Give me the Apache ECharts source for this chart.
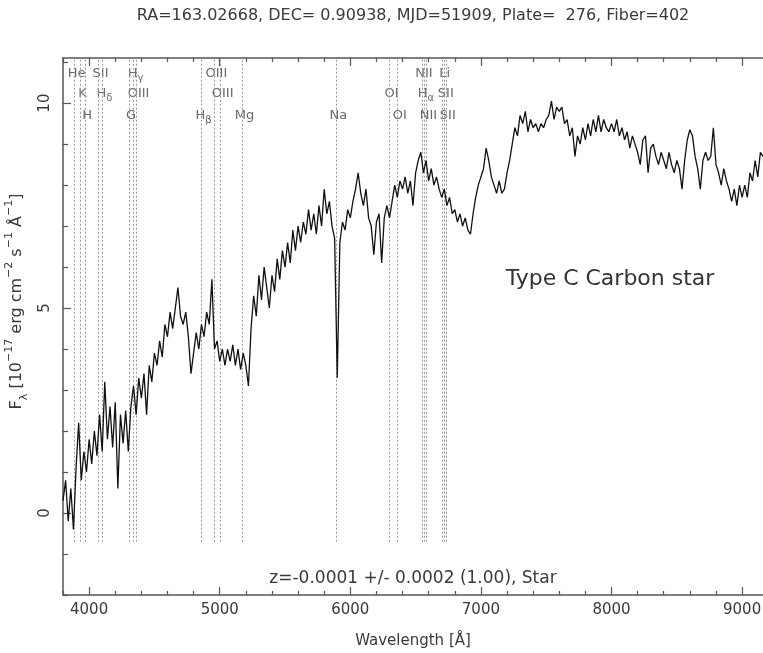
<!DOCTYPE html>
<html>
<head>
<meta charset="utf-8">
<script src="https://cdn.jsdelivr.net/npm/echarts@6/dist/echarts.min.js"></script>
<style>
html,body{margin:0;padding:0;background:#fff;}
#chart{width:763px;height:653px;}
</style>
</head>
<body>
<div id="chart"></div>
<script>
// ---- data ----
const waveStart = 3800;
const waveStep = 20;
const flux = [
  0.3,0.8,-0.2,0.6,-0.4,1.1,2.2,0.8,1.5,1.0,
  1.8,1.2,2.0,1.4,2.4,1.5,3.2,1.8,2.6,1.6,
  2.7,0.6,2.4,1.7,2.5,1.5,2.6,3.1,2.4,3.3,
  2.8,3.4,2.4,3.6,3.2,3.9,3.6,4.2,3.8,4.6,
  4.3,4.9,4.5,5.0,5.5,4.8,4.6,4.9,4.3,3.4,
  3.9,4.4,4.0,4.6,4.3,4.9,4.6,5.7,4.0,4.2,
  3.7,4.0,3.6,4.0,3.7,4.1,3.6,4.0,3.5,3.9,
  3.6,3.1,4.5,5.3,4.8,5.8,5.2,6.0,5.5,5.0,
  5.8,5.4,6.2,5.7,6.4,6.0,6.6,6.1,6.9,6.4,
  7.0,6.6,7.1,6.8,7.4,6.9,7.3,6.8,7.5,7.0,
  7.9,7.3,7.6,7.0,6.7,3.3,6.6,7.1,6.9,7.4,
  7.2,7.6,7.9,8.3,7.8,7.5,7.9,7.2,7.0,6.3,
  7.1,7.3,6.1,7.2,7.5,7.2,7.6,8.0,7.7,8.1,
  7.9,8.2,7.8,8.1,7.5,8.3,8.6,8.8,8.3,8.6,
  8.1,8.4,8.0,8.2,7.9,7.7,7.9,7.5,7.7,7.3,
  7.4,7.1,7.3,7.0,7.2,6.9,6.8,7.3,7.7,8.0,
  8.2,8.4,8.9,8.6,8.2,8.0,7.8,8.1,7.8,7.9,
  8.3,8.6,9.0,9.4,9.2,9.7,9.5,9.8,9.3,9.6,
  9.4,9.5,9.3,9.5,9.4,9.6,9.7,10.05,9.6,9.9,
  9.8,9.9,9.5,9.6,9.2,9.4,8.7,9.2,9.0,9.4,
  9.1,9.5,9.2,9.6,9.3,9.7,9.3,9.6,9.4,9.3,
  9.5,9.3,9.6,9.2,9.4,9.1,9.3,8.9,9.2,9.0,
  8.8,8.5,9.1,9.2,8.3,8.9,9.0,8.7,8.5,8.8,
  8.6,8.4,8.8,8.5,8.3,8.6,8.4,7.9,8.6,9.1,
  9.35,9.2,8.7,8.4,7.9,8.6,8.8,8.6,8.7,9.4,
  8.5,8.3,8.0,8.4,8.1,7.9,7.6,7.9,7.5,8.0,
  7.7,8.0,7.7,8.3,8.1,8.6,8.2,8.8,8.7
];
const lineWaves  = [3889, 3934, 3969, 4072, 4102, 4305, 4340, 4363, 4861, 4959, 5007, 5175, 5894, 6300, 6363, 6548, 6563, 6583, 6707, 6716, 6731];
const lineLabels = ['He','K','H','SII','Hδ','G','Hγ','OIII','Hβ','OIII','OIII','Mg','Na','OI','OI','NII','Hα','NII','Li','SII','SII'];
const lineRows   = [1, 2, 3, 1, 2, 3, 1, 2, 3, 1, 2, 3, 3, 2, 3, 1, 2, 3, 1, 2, 3];
const xMajorTicks = [4000, 5000, 6000, 7000, 8000, 9000];
const yMajorTicks = [0, 5, 10];
const titleText = 'RA=163.02668, DEC= 0.90938, MJD=51909, Plate=  276, Fiber=402';
const zText = 'z=-0.0001 +/- 0.0002 (1.00), Star';
const classText = 'Type C Carbon star';

// ---- build ----
const FONT = 'DejaVu Sans';
const TXT = '#3a3a3a';
const AX = '#555';
const xMin = 3800, xMax = 9160, yMin = -2, yMax = 11.1;
const rowY = [10.73, 10.24, 9.70];

const specData = flux.map((f, i) => [waveStart + i * waveStep, f]);
const xMinor = []; for (let v = xMin; v <= xMax; v += 200) if (v % 1000 !== 0) xMinor.push(v);
const yMinor = []; for (let v = yMin; v <= 11; v += 1) if (v % 5 !== 0) yMinor.push(v);

function richLabel(n) {
  if (n.length === 2 && n[0] === 'H' && 'αβγδ'.indexOf(n[1]) >= 0) return '{b|H}{g|' + n[1] + '}';
  return '{b|' + n + '}';
}

const labelData = lineWaves.map((w, i) => ({ value: [w, rowY[lineRows[i] - 1]], name: lineLabels[i] }));
const markData = lineWaves.map(w => [{ coord: [w, -0.7] }, { coord: [w, yMax] }]);

function xAx(pos, ticks, len, showLine, showLabel) {
  return {
    type: 'value', position: pos, min: xMin, max: xMax,
    axisLine: { show: showLine, onZero: false, lineStyle: { color: AX, width: 1.5 } },
    axisTick: { show: true, inside: true, length: len, customValues: ticks, lineStyle: { color: AX, width: 1.2 } },
    axisLabel: showLabel ? { show: true, customValues: xMajorTicks, formatter: v => String(v), margin: 8, color: TXT, fontFamily: FONT, fontSize: 15 } : { show: false },
    splitLine: { show: false }
  };
}
function yAx(ticks, len, showLine, showLabel) {
  return {
    type: 'value', position: 'left', min: yMin, max: yMax,
    axisLine: { show: showLine, onZero: false, lineStyle: { color: AX, width: 1.5 } },
    axisTick: { show: true, inside: true, length: len, customValues: ticks, lineStyle: { color: AX, width: 1.2 } },
    axisLabel: showLabel ? { show: true, customValues: yMajorTicks, formatter: v => String(v), rotate: 90, margin: 10, color: TXT, fontFamily: FONT, fontSize: 15 } : { show: false },
    splitLine: { show: false }
  };
}

const xAxes = [
  xAx('bottom', xMajorTicks, 8, true, true),
  xAx('bottom', xMinor, 4, false, false),
  xAx('top', xMajorTicks, 8, true, false),
  xAx('top', xMinor, 4, false, false)
];
xAxes[0].name = 'Wavelength [Å]';
xAxes[0].nameLocation = 'middle';
xAxes[0].nameGap = 39;
xAxes[0].nameTextStyle = { color: TXT, fontFamily: FONT, fontSize: 15 };

const yAxes = [yAx(yMajorTicks, 8, true, true), yAx(yMinor, 5, false, false)];
yAxes[0].name = '{t|F}{s|λ}{t| [10}{p|−17}{t| erg cm}{p|−2}{t| s}{p|−1}{t| Å}{p|−1}{t|]}';
yAxes[0].nameLocation = 'middle';
yAxes[0].nameRotate = 90;
yAxes[0].nameGap = 26;
yAxes[0].nameTextStyle = {
  color: TXT, fontFamily: FONT, padding: [0, 0, 0, 50],
  rich: {
    t: { fontSize: 16, fontFamily: FONT, color: TXT, lineHeight: 26, verticalAlign: 'middle' },
    s: { fontSize: 11, fontFamily: FONT, color: TXT, lineHeight: 13, verticalAlign: 'bottom' },
    p: { fontSize: 11, fontFamily: FONT, color: TXT, lineHeight: 13, verticalAlign: 'top' }
  }
};

const chart = echarts.init(document.getElementById('chart'), null, { renderer: 'canvas' });
chart.setOption({
  animation: false,
  backgroundColor: '#fff',
  grid: { left: 63, right: 0, top: 58, bottom: 58, containLabel: false, outerBoundsMode: 'none' },
  xAxis: xAxes,
  yAxis: yAxes,
  graphic: [
    { type: 'text', x: 413, y: 16, style: { text: titleText, textAlign: 'center', textVerticalAlign: 'middle', fill: TXT, font: '16px "DejaVu Sans"' } },
    { type: 'text', x: 413, y: 579, style: { text: zText, textAlign: 'center', textVerticalAlign: 'middle', fill: TXT, font: '17px "DejaVu Sans"' } },
    { type: 'text', x: 610, y: 279, style: { text: classText, textAlign: 'center', textVerticalAlign: 'middle', fill: '#333', font: '22px "DejaVu Sans"' } }
  ],
  series: [
    {
      type: 'scatter', xAxisIndex: 0, yAxisIndex: 0, symbolSize: 0, silent: true, z: 3,
      data: labelData,
      label: {
        show: true, position: 'inside', offset: [2, 0],
        formatter: p => richLabel(p.name),
        rich: {
          b: { fontSize: 13, fontFamily: FONT, color: '#444', lineHeight: 20, verticalAlign: 'middle' },
          g: { fontSize: 10, fontFamily: FONT, color: '#444', lineHeight: 10, verticalAlign: 'bottom' }
        }
      },
      markLine: {
        silent: true, symbol: ['none', 'none'], animation: false,
        label: { show: false },
        lineStyle: { color: '#999', type: [2, 2], width: 1 },
        data: markData
      }
    },
    {
      type: 'line', xAxisIndex: 0, yAxisIndex: 0, data: specData, showSymbol: false, silent: true, z: 5,
      lineStyle: { color: '#111', width: 1.3 }
    }
  ]
});
</script>
</body>
</html>
